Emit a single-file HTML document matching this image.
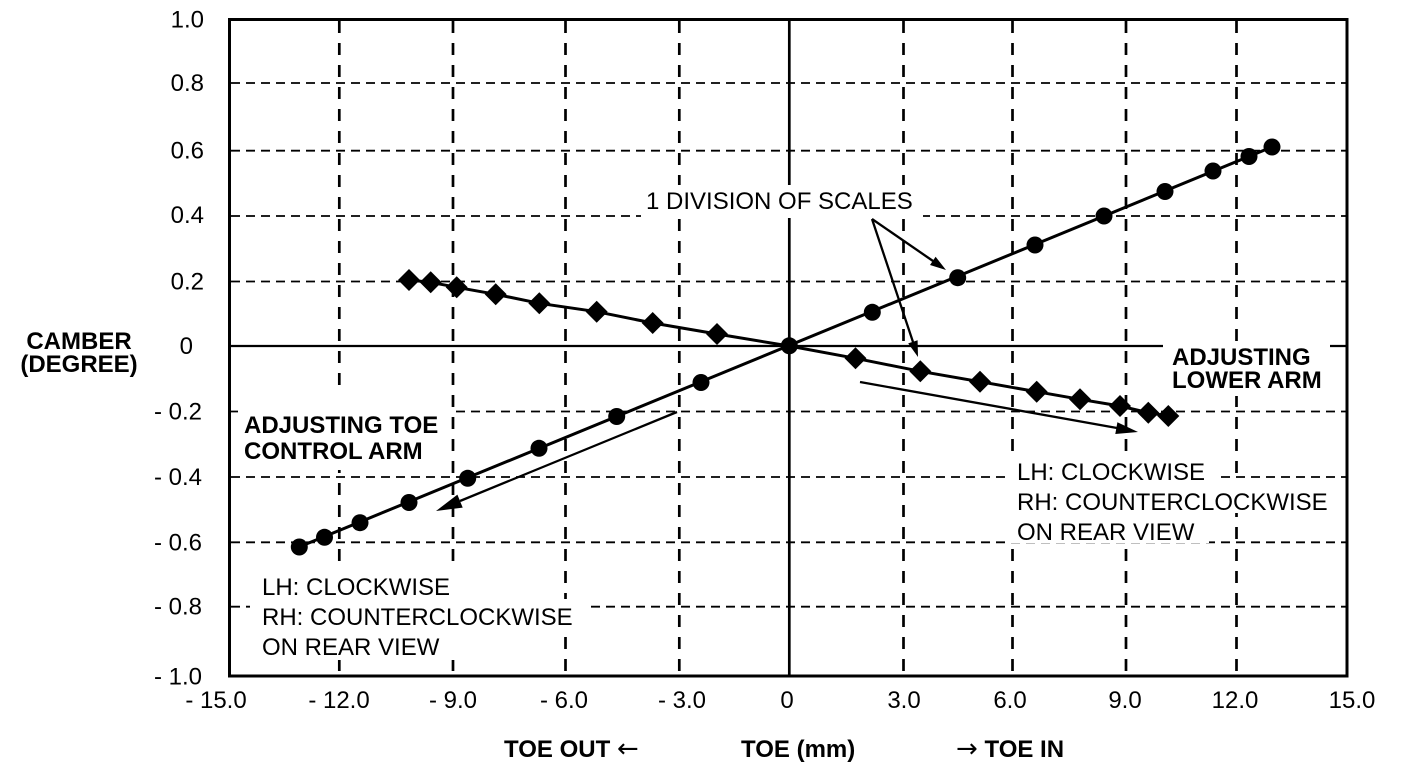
<!DOCTYPE html>
<html>
<head>
<meta charset="utf-8">
<style>
html,body{margin:0;padding:0;background:#fff;}
svg{display:block;}
text{font-family:"Liberation Sans",Arial,sans-serif;fill:#000;}
.t{font-size:24px;}
.b{font-size:24px;font-weight:bold;}
.ar{font-family:"DejaVu Sans",sans-serif;font-weight:normal;font-size:26px;}
</style>
</head>
<body>
<svg width="1408" height="764" viewBox="0 0 1408 764" xmlns="http://www.w3.org/2000/svg">
<rect x="0" y="0" width="1408" height="764" fill="#fff"/>

<g stroke="#000" stroke-width="1.8" stroke-dasharray="9 6" fill="none">
<line x1="231" y1="83" x2="1346" y2="83"/>
<line x1="231" y1="150.7" x2="1346" y2="150.7"/>
<line x1="231" y1="216" x2="1346" y2="216"/>
<line x1="231" y1="281.5" x2="1346" y2="281.5"/>
<line x1="231" y1="411.5" x2="1346" y2="411.5"/>
<line x1="231" y1="477" x2="1346" y2="477"/>
<line x1="231" y1="542.3" x2="1346" y2="542.3"/>
<line x1="231" y1="606.7" x2="1346" y2="606.7"/>
</g>
<g stroke="#000" stroke-width="2.7" stroke-dasharray="12 10" fill="none">
<line x1="339.3" y1="21" x2="339.3" y2="675"/>
<line x1="453" y1="21" x2="453" y2="675"/>
<line x1="565.5" y1="21" x2="565.5" y2="675"/>
<line x1="679.3" y1="21" x2="679.3" y2="675"/>
<line x1="903.5" y1="21" x2="903.5" y2="675"/>
<line x1="1012.5" y1="21" x2="1012.5" y2="675"/>
<line x1="1126" y1="21" x2="1126" y2="675"/>
<line x1="1236.5" y1="21" x2="1236.5" y2="675"/>
</g>
<line x1="229.5" y1="346" x2="1347" y2="346" stroke="#000" stroke-width="2.2"/>
<line x1="789.3" y1="19.5" x2="789.3" y2="676" stroke="#000" stroke-width="2.7"/>
<rect x="229.5" y="19.5" width="1117.5" height="656.5" fill="none" stroke="#000" stroke-width="3"/>

<g fill="#fff">
<rect x="641" y="185" width="282" height="33"/>
<rect x="238" y="390" width="213" height="80"/>
<rect x="1163" y="343" width="167" height="53"/>
<rect x="1011" y="453" width="206" height="30"/>
<rect x="1011" y="483" width="334" height="30"/>
<rect x="1011" y="513" width="198" height="30"/>
<rect x="250" y="568" width="212" height="31"/>
<rect x="250" y="599" width="340" height="30"/>
<rect x="250" y="629" width="210" height="31"/>
</g>

<line x1="299" y1="547" x2="1272" y2="147" stroke="#000" stroke-width="3"/>
<g fill="#000">
<circle cx="299.3" cy="547" r="8.5"/>
<circle cx="324.5" cy="537.3" r="8.5"/>
<circle cx="360" cy="522.7" r="8.5"/>
<circle cx="409" cy="502.5" r="8.5"/>
<circle cx="467.7" cy="478.3" r="8.5"/>
<circle cx="539" cy="448.3" r="8.5"/>
<circle cx="616.7" cy="416.5" r="8.5"/>
<circle cx="701" cy="382.5" r="8.5"/>
<circle cx="789.3" cy="345.8" r="8.5"/>
<circle cx="872.3" cy="312.3" r="8.5"/>
<circle cx="957.7" cy="277.7" r="8.5"/>
<circle cx="1035" cy="245" r="8.5"/>
<circle cx="1104" cy="216" r="8.5"/>
<circle cx="1165" cy="191.5" r="8.5"/>
<circle cx="1213" cy="171" r="8.5"/>
<circle cx="1249" cy="156.5" r="8.5"/>
<circle cx="1272" cy="147" r="8.5"/>
</g>

<polyline fill="none" stroke="#000" stroke-width="3" points="409,280 430.7,282.3 456.7,287.3 495.7,294.3 539.3,303.3 596.7,311.7 652.7,323 717,334 789.3,346 855.5,358.3 920.3,371.3 980,381.7 1036.7,391.7 1080,399.3 1120,406 1148.3,412.7 1168.3,416"/>
<g fill="#000">
<polygon points="409,269 420,280 409,291 398,280"/>
<polygon points="430.7,271.3 441.7,282.3 430.7,293.3 419.7,282.3"/>
<polygon points="456.7,276.3 467.7,287.3 456.7,298.3 445.7,287.3"/>
<polygon points="495.7,283.3 506.7,294.3 495.7,305.3 484.7,294.3"/>
<polygon points="539.3,292.3 550.3,303.3 539.3,314.3 528.3,303.3"/>
<polygon points="596.7,300.7 607.7,311.7 596.7,322.7 585.7,311.7"/>
<polygon points="652.7,312 663.7,323 652.7,334 641.7,323"/>
<polygon points="717,323 728,334 717,345 706,334"/>
<polygon points="855.5,347.3 866.5,358.3 855.5,369.3 844.5,358.3"/>
<polygon points="920.3,360.3 931.3,371.3 920.3,382.3 909.3,371.3"/>
<polygon points="980,370.7 991,381.7 980,392.7 969,381.7"/>
<polygon points="1036.7,380.7 1047.7,391.7 1036.7,402.7 1025.7,391.7"/>
<polygon points="1080,388.3 1091,399.3 1080,410.3 1069,399.3"/>
<polygon points="1120,395 1131,406 1120,417 1109,406"/>
<polygon points="1148.3,401.7 1159.3,412.7 1148.3,423.7 1137.3,412.7"/>
<polygon points="1168.3,405 1179.3,416 1168.3,427 1157.3,416"/>
</g>

<g stroke="#000" stroke-width="2.3" fill="none">
<line x1="872" y1="219" x2="933" y2="261"/>
<line x1="872" y1="219" x2="913" y2="342"/>
<line x1="677" y1="412" x2="460" y2="501"/>
<line x1="860" y1="382" x2="1117" y2="428"/>
</g>
<g fill="#000">
<polygon points="946,270 930,265 935.6,256.8"/>
<polygon points="918,357 908.2,343.4 917.6,340.2"/>
<polygon points="436,511 457.4,494.6 462.7,507.6"/>
<polygon points="1138,432 1115.3,434 1117.4,422.2"/>
</g>

<g text-anchor="end">
<text x="204" y="27.5" class="t">1.0</text>
<text x="204" y="91" class="t">0.8</text>
<text x="204" y="158.7" class="t">0.6</text>
<text x="204" y="223" class="t">0.4</text>
<text x="204" y="289.5" class="t">0.2</text>
<text x="193" y="354" class="t">0</text>
<text x="202" y="419.5" class="t">- 0.2</text>
<text x="202" y="485" class="t">- 0.4</text>
<text x="202" y="550.3" class="t">- 0.6</text>
<text x="202" y="614.7" class="t">- 0.8</text>
<text x="202" y="684.3" class="t">- 1.0</text>
</g>
<g text-anchor="middle">
<text x="216" y="708" class="t">- 15.0</text>
<text x="339" y="708" class="t">- 12.0</text>
<text x="453" y="708" class="t">- 9.0</text>
<text x="564" y="708" class="t">- 6.0</text>
<text x="682" y="708" class="t">- 3.0</text>
<text x="787" y="708" class="t">0</text>
<text x="904" y="708" class="t">3.0</text>
<text x="1010" y="708" class="t">6.0</text>
<text x="1125" y="708" class="t">9.0</text>
<text x="1235" y="708" class="t">12.0</text>
<text x="1352" y="708" class="t">15.0</text>
</g>

<text x="79" y="349" class="b" text-anchor="middle">CAMBER</text>
<text x="79" y="372" class="b" text-anchor="middle">(DEGREE)</text>
<text x="504" y="757" class="b">TOE OUT <tspan class="ar">←</tspan></text>
<text x="741" y="757" class="b">TOE (mm)</text>
<text x="956" y="757" class="b"><tspan class="ar">→</tspan> TOE IN</text>

<text x="646" y="209" class="t">1 DIVISION OF SCALES</text>
<text x="244" y="433" class="b">ADJUSTING TOE</text>
<text x="244" y="459" class="b">CONTROL ARM</text>
<text x="1172" y="365" class="b">ADJUSTING</text>
<text x="1172" y="388" class="b">LOWER ARM</text>
<text x="1017" y="480" class="t">LH: CLOCKWISE</text>
<text x="1017" y="510" class="t">RH: COUNTERCLOCKWISE</text>
<text x="1017" y="540" class="t">ON REAR VIEW</text>
<text x="262" y="595" class="t">LH: CLOCKWISE</text>
<text x="262" y="625" class="t">RH: COUNTERCLOCKWISE</text>
<text x="262" y="655" class="t">ON REAR VIEW</text>
</svg>
</body>
</html>
